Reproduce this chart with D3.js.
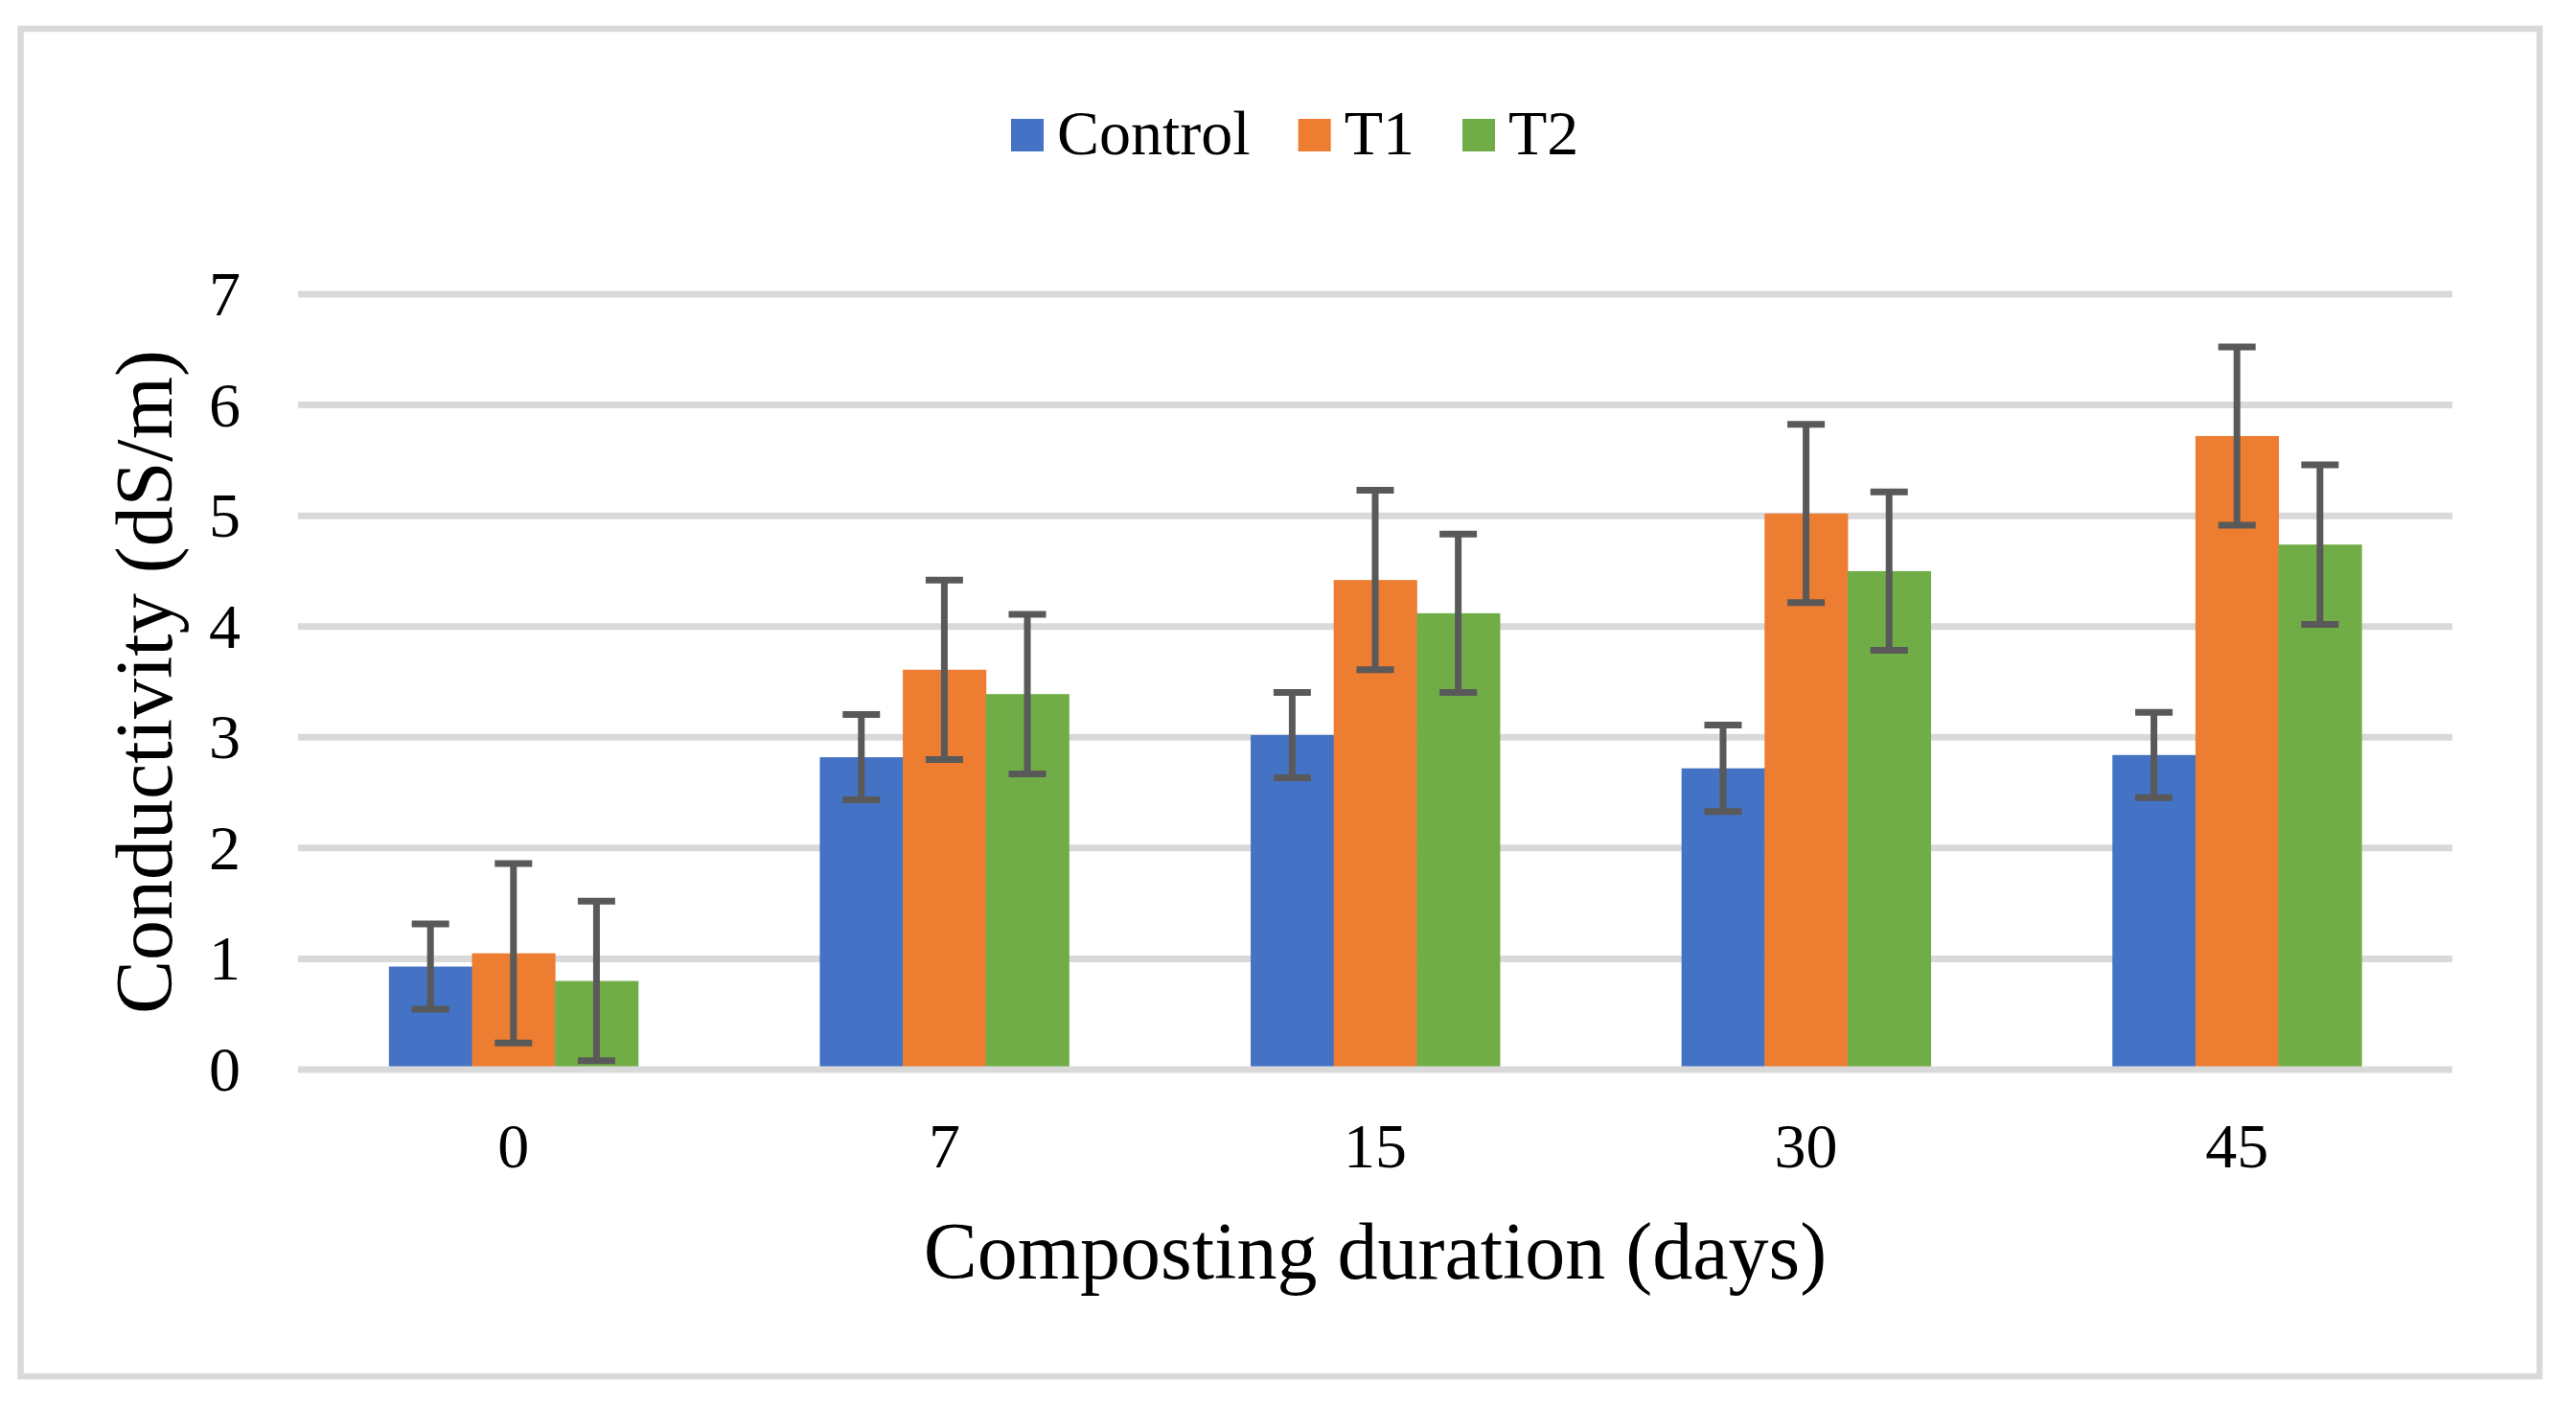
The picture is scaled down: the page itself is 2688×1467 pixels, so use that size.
<!DOCTYPE html>
<html>
<head>
<meta charset="utf-8">
<script src="https://cdn.jsdelivr.net/npm/d3@7"></script>
<style>
    body { margin: 0; background: #fff; }
    text { font-family: "Liberation Serif", "Times New Roman", serif; fill: #000; }
</style>
</head>
<body>
<div id="chart"></div>
<script>
    //Colours
    var $blue = '#4472c4';
    var $orange = '#ed7d31';
    var $green = '#70ad47';
    var $grid = '#d9d9d9';
    var $err = '#595959';

    //data
    var days = ['0', '7', '15', '30', '45'];
    var seriesNames = ['Control', 'T1', 'T2'];
    var controlVals = [0.93, 2.82, 3.02, 2.72, 2.84];
    var t1Vals = [1.05, 3.61, 4.42, 5.02, 5.72];
    var t2Vals = [0.80, 3.39, 4.12, 4.50, 4.74];
    var controlErr = [0.385, 0.385, 0.385, 0.39, 0.385];
    var t1Err = [0.81, 0.81, 0.81, 0.805, 0.805];
    var t2Err = [0.72, 0.72, 0.715, 0.715, 0.72];
    var yTicks = [0, 1, 2, 3, 4, 5, 6, 7];

    var colors = [$blue, $orange, $green];
    var vals = [controlVals, t1Vals, t2Vals];
    var errs = [controlErr, t1Err, t2Err];

    //global sizes
    var width = 2688;
    var height = 1467;
    var plotLeft = 311, plotRight = 2559, plotTop = 307, plotBottom = 1116;

    var svg = d3.select('#chart').append('svg')
        .attr('width', width)
        .attr('height', height);

    svg.append('rect')
        .attr('width', width)
        .attr('height', height)
        .attr('fill', '#fff');

    //outer frame
    svg.append('rect')
        .attr('x', 21.5)
        .attr('y', 30)
        .attr('width', 2650 - 21.5)
        .attr('height', 1436 - 30)
        .attr('fill', 'none')
        .attr('stroke', $grid)
        .attr('stroke-width', 6.5);

    //scales
    var x0 = d3.scaleBand().domain(days).range([plotLeft, plotRight]).padding(0);
    var barW = x0.bandwidth() / 5.19;
    var x1 = d3.scaleBand().domain(seriesNames).range([0, barW * 3]).padding(0);
    var groupOffset = (x0.bandwidth() - barW * 3) / 2;
    var y = d3.scaleLinear().domain([0, 7]).range([plotBottom, plotTop]);

    //gridlines
    svg.append('g').selectAll('line')
        .data(yTicks.filter(function(d) { return d > 0; }))
        .enter().append('line')
        .attr('x1', plotLeft)
        .attr('x2', plotRight)
        .attr('y1', function(d) { return y(d); })
        .attr('y2', function(d) { return y(d); })
        .attr('stroke', $grid)
        .attr('stroke-width', 7);

    //y tick labels
    svg.append('g').selectAll('text')
        .data(yTicks)
        .enter().append('text')
        .attr('x', 251)
        .attr('y', function(d) { return y(d) + 22; })
        .attr('text-anchor', 'end')
        .attr('font-size', 66)
        .text(function(d) { return d; });

    //bars
    var rows = [];
    days.forEach(function(day, i) {
        seriesNames.forEach(function(s, j) {
            rows.push({day: day, series: s, value: vals[j][i], err: errs[j][i], color: colors[j]});
        });
    });

    var barG = svg.append('g');
    barG.selectAll('rect')
        .data(rows)
        .enter().append('rect')
        .attr('x', function(d) { return x0(d.day) + groupOffset + x1(d.series); })
        .attr('y', function(d) { return y(d.value); })
        .attr('width', x1.bandwidth() + 0.5)
        .attr('height', function(d) { return y(0) - y(d.value); })
        .attr('fill', function(d) { return d.color; });

    //axis line at 0
    svg.append('line')
        .attr('x1', plotLeft)
        .attr('x2', plotRight)
        .attr('y1', y(0))
        .attr('y2', y(0))
        .attr('stroke', $grid)
        .attr('stroke-width', 7);

    //error bars
    var errG = svg.append('g').attr('stroke', $err).attr('stroke-width', 7);
    rows.forEach(function(d) {
        var cx = x0(d.day) + groupOffset + x1(d.series) + x1.bandwidth() / 2;
        var hi = y(d.value + d.err);
        var lo = y(Math.max(0, d.value - d.err));
        errG.append('line').attr('x1', cx).attr('x2', cx).attr('y1', hi).attr('y2', lo);
        errG.append('line').attr('x1', cx - 19.5).attr('x2', cx + 19.5).attr('y1', hi).attr('y2', hi);
        errG.append('line').attr('x1', cx - 19.5).attr('x2', cx + 19.5).attr('y1', lo).attr('y2', lo);
    });

    //x tick labels
    svg.append('g').selectAll('text')
        .data(days)
        .enter().append('text')
        .attr('x', function(d) { return x0(d) + x0.bandwidth() / 2; })
        .attr('y', 1218)
        .attr('text-anchor', 'middle')
        .attr('font-size', 66)
        .text(function(d) { return d; });

    //axis titles
    svg.append('text')
        .attr('x', (plotLeft + plotRight) / 2)
        .attr('y', 1334)
        .attr('text-anchor', 'middle')
        .attr('font-size', 84)
        .text('Composting duration (days)');

    svg.append('text')
        .attr('transform', 'translate(179,' + ((plotTop + plotBottom) / 2) + ') rotate(-90)')
        .attr('text-anchor', 'middle')
        .attr('font-size', 84)
        .text('Conductivity (dS/m)');

    //legend
    var legendX = 1055;
    seriesNames.forEach(function(s, j) {
        svg.append('rect')
            .attr('x', legendX)
            .attr('y', 124)
            .attr('width', 34)
            .attr('height', 34)
            .attr('fill', colors[j]);
        var t = svg.append('text')
            .attr('x', legendX + 48)
            .attr('y', 161)
            .attr('font-size', 66)
            .text(s);
        legendX += 48 + t.node().getComputedTextLength() + 50;
    });
</script>
</body>
</html>
